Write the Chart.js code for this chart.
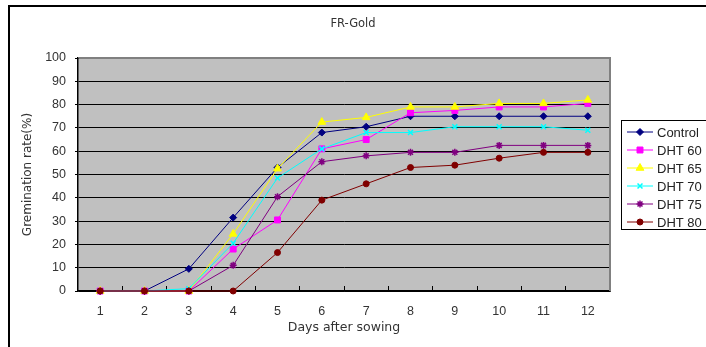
<!DOCTYPE html>
<html>
<head>
<meta charset="utf-8">
<script src="https://cdn.jsdelivr.net/npm/chart.js@4.4.0/dist/chart.umd.min.js"></script>
<style>
  html, body { margin: 0; padding: 0; background: #fff; }
</style>
</head>
<body>
<canvas id="germChart" width="706" height="347"></canvas>
<script>
// germination curves, FR-Gold
var chartTitle = "FR-Gold";
var days = ["1", "2", "3", "4", "5", "6", "7", "8", "9", "10", "11", "12"];
var control = [0, 0, 9.5, 31.5, 53, 68, 70.5, 75, 75, 75, 75, 75];
var dht60 = [0, 0, 0, 18, 30.5, 61, 65, 76.5, 77.5, 79, 79, 80.5];
var dht65 = [0, 0, 0, 24.5, 52.5, 72.5, 74.5, 79, 79, 80.5, 80.5, 82];
var dht70 = [0, 0, 1, 20.5, 48.5, 61, 68, 68, 70.5, 70.5, 70.5, 69];
var dht75 = [0, 0, 0, 11, 40.5, 55.5, 58, 59.5, 59.5, 62.5, 62.5, 62.5];
var dht80 = [0, 0, 0, 0, 16.5, 39, 46, 53, 54, 57, 59.5, 59.5];
var seriesNames = ["Control", "DHT 60", "DHT 65", "DHT 70", "DHT 75", "DHT 80"];

function makeSet(i, values, color, style, radius, bw) {
    return {
        label: seriesNames[i],
        data: values,
        borderColor: color,
        backgroundColor: color,
        borderWidth: 1,
        pointStyle: style,
        pointRadius: radius,
        pointBorderWidth: bw,
        pointHoverRadius: radius,
        tension: 0,
        clip: false,
        order: 5 - i
    };
}

// page frame, title, grey plot area with its light border
var frame = {
    id: "frame",
    beforeDraw: function(chart) {
        var ctx = chart.ctx, a = chart.chartArea;
        ctx.save();
        ctx.fillStyle = "#fff";
        ctx.fillRect(0, 0, chart.width, chart.height);
        ctx.strokeStyle = "#000";
        ctx.lineWidth = 2;
        ctx.strokeRect(9, 6, chart.width + 20, chart.height + 20);
        ctx.fillStyle = "#c0c0c0";
        ctx.fillRect(a.left, a.top, a.right - a.left, a.bottom - a.top);
        ctx.fillStyle = "#333";
        ctx.font = "11.5px 'DejaVu Sans', sans-serif";
        ctx.textAlign = "center";
        ctx.textBaseline = "middle";
        ctx.fillText(chartTitle, chart.width / 2, 24);
        ctx.restore();
    },
    beforeDatasetsDraw: function(chart) {
        var ctx = chart.ctx, a = chart.chartArea;
        ctx.save();
        ctx.strokeStyle = "#808080";
        ctx.lineWidth = 2;
        ctx.beginPath();
        ctx.moveTo(a.left + 1, a.top);
        ctx.lineTo(a.right, a.top);
        ctx.lineTo(a.right, a.bottom);
        ctx.stroke();
        ctx.restore();
    }
};

// boxed legend on the right
var sideLegend = {
    id: "sideLegend",
    afterDraw: function(chart) {
        var ctx = chart.ctx;
        var x0 = 621, y0 = 120;
        ctx.save();
        ctx.fillStyle = "#fff";
        ctx.fillRect(x0, y0, 100, 109);
        ctx.strokeStyle = "#000";
        ctx.lineWidth = 1;
        ctx.strokeRect(x0 + 0.5, y0 + 0.5, 100, 109);
        ctx.font = "13px 'Liberation Sans', Arial, sans-serif";
        ctx.textBaseline = "middle";
        chart.data.datasets.forEach(function(ds, i) {
            var y = y0 + 12 + i * 18;
            ctx.strokeStyle = ds.borderColor;
            ctx.fillStyle = ds.backgroundColor;
            ctx.lineWidth = 1;
            ctx.beginPath();
            ctx.moveTo(627, y);
            ctx.lineTo(653, y);
            ctx.stroke();
            ctx.lineWidth = ds.pointBorderWidth;
            Chart.helpers.drawPoint(ctx, {
                pointStyle: ds.pointStyle,
                radius: ds.pointRadius,
                rotation: 0,
                borderWidth: ds.pointBorderWidth
            }, 640, y);
            ctx.fillStyle = "#222";
            ctx.fillText(ds.label, 657, y + 1);
        });
        ctx.restore();
    }
};

var ctx = document.getElementById("germChart").getContext("2d");

var config = {
    type: "line",
    data: {
        labels: days,
        datasets: [
            makeSet(0, control, "#000080", "rectRot", 3.5, 1),
            makeSet(1, dht60, "#ff00ff", "rect", 4.2, 1),
            makeSet(2, dht65, "#ffff00", "triangle", 4.5, 1),
            makeSet(3, dht70, "#00ffff", "crossRot", 3.5, 1.5),
            makeSet(4, dht75, "#800080", "star", 3.5, 1.5),
            makeSet(5, dht80, "#800000", "circle", 3, 1)
        ]
    },
    options: {
        responsive: false,
        animation: false,
        layout: {
            padding: { left: 0, top: 58, right: 96, bottom: 0 }
        },
        scales: {
            x: {
                offset: true,
                grid: {
                    offset: true,
                    drawOnChartArea: false,
                    tickLength: -5,
                    color: "#000"
                },
                border: { color: "#000", width: 1.5 },
                ticks: {
                    padding: 18,
                    color: "#333",
                    maxRotation: 0,
                    font: { family: "'Liberation Sans', Arial, sans-serif", size: 12.5 }
                },
                title: {
                    display: true,
                    text: "Days after sowing",
                    color: "#333",
                    padding: { top: 0, bottom: 11.5 },
                    font: { family: "'DejaVu Sans', sans-serif", size: 12.5 }
                },
                afterFit: function(scale) { scale.height = 56; }
            },
            y: {
                min: 0,
                max: 100,
                ticks: {
                    stepSize: 10,
                    padding: 9,
                    color: "#333",
                    font: { family: "'Liberation Sans', Arial, sans-serif", size: 12.5 }
                },
                grid: {
                    color: "#000",
                    lineWidth: 1,
                    tickLength: 3
                },
                border: { color: "#000", width: 1.5 },
                title: {
                    display: true,
                    text: "Gremination rate(%)",
                    color: "#333",
                    padding: { top: 21, bottom: 0 },
                    font: { family: "'DejaVu Sans', sans-serif", size: 12 }
                },
                afterFit: function(scale) { scale.width = 78; }
            }
        },
        plugins: {
            legend: { display: false },
            tooltip: { enabled: false },
            title: { display: false }
        }
    },
    plugins: [frame, sideLegend]
};

var germChart = new Chart(ctx, config);
</script>
</body>
</html>
